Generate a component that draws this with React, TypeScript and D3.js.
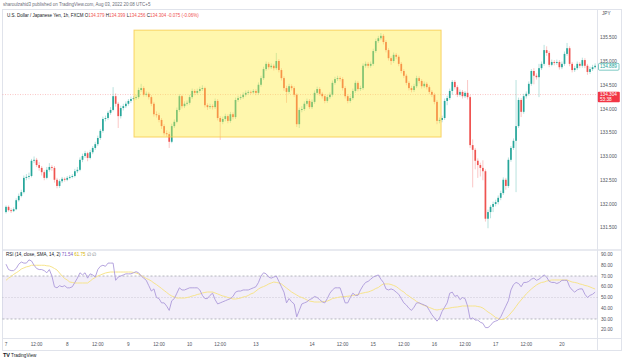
import React from 'react';
import * as d3 from 'd3';

// ---- DATA (USD/JPY 1h) ----
const firstOpen = 131.83;
const closes = [
  131.94,131.87,131.85,131.89,132.08,132.17,132.25,132.55,132.57,132.59,
  132.91,132.93,132.82,132.76,132.67,132.55,132.72,132.78,132.76,132.51,
  132.38,132.48,132.53,132.51,132.55,132.57,132.59,132.69,132.72,132.93,
  133.01,133.07,132.97,133.09,133.18,133.26,133.39,133.54,133.79,133.81,
  133.92,133.98,134.27,134.11,133.85,134.02,134.06,134.11,134.17,134.21,
  134.23,134.25,134.40,134.44,134.30,134.32,134.25,134.11,133.89,133.87,
  133.77,133.64,133.49,133.47,133.31,133.64,133.73,133.98,134.27,134.06,
  134.11,134.13,134.25,134.38,134.34,134.38,134.42,134.44,134.08,134.04,
  134.06,134.04,134.17,133.81,133.73,133.79,133.85,133.75,133.89,133.83,
  134.19,134.23,134.25,134.30,134.34,134.36,134.35,134.38,134.34,134.51,
  134.65,134.84,134.95,134.88,134.91,134.86,135.01,134.82,134.65,134.44,
  134.36,134.48,134.44,134.30,133.68,133.98,134.00,134.11,134.17,134.04,
  134.15,134.34,134.42,134.32,134.27,134.17,134.25,134.30,134.55,134.63,
  134.65,134.63,134.44,134.27,134.17,134.23,134.38,134.55,134.42,134.44,
  134.91,134.95,134.91,134.95,135.22,135.43,135.49,135.54,135.41,135.24,
  135.07,135.01,135.14,135.10,134.95,134.80,134.70,134.55,134.44,134.40,
  134.48,134.65,134.59,134.48,134.53,134.46,134.36,134.30,134.15,133.75,
  133.77,133.81,134.17,134.23,134.38,134.57,134.46,134.30,134.36,134.27,
  134.34,134.25,133.24,133.14,132.91,132.82,132.76,132.69,131.69,131.83,
  131.94,132.00,132.04,132.13,132.23,132.51,132.38,132.93,133.18,133.33,
  133.64,134.19,133.94,134.27,134.32,134.53,134.80,134.70,134.67,134.86,
  134.95,135.24,135.18,134.93,134.99,134.97,134.99,134.88,134.95,135.16,
  135.28,134.95,134.82,134.86,134.95,134.91,135.03,134.91,134.78,134.84,
  134.88,134.91,
];
const highs = [
  131.97,131.97,131.91,131.93,132.12,132.22,132.30,132.60,132.63,132.66,
  132.95,133.00,132.97,132.88,132.80,132.71,132.78,132.86,132.82,132.80,
  132.55,132.52,132.57,132.56,132.59,132.61,132.63,132.74,132.78,132.98,
  133.06,133.12,133.10,133.14,133.22,133.31,133.44,133.58,133.84,133.86,
  133.96,134.04,134.46,134.33,134.15,134.07,134.11,134.16,134.21,134.26,
  134.27,134.30,134.45,134.53,134.48,134.37,134.36,134.29,134.15,133.95,
  133.92,133.81,133.68,133.55,133.52,133.69,133.78,134.03,134.31,134.30,
  134.16,134.18,134.30,134.43,134.42,134.43,134.47,134.50,134.47,134.12,
  134.11,134.10,134.22,134.21,133.85,133.84,133.90,133.89,133.94,133.93,
  134.24,134.28,134.29,134.35,134.39,134.40,134.39,134.42,134.42,134.56,
  134.70,134.89,135.00,134.99,134.96,134.95,135.18,135.05,134.86,134.69,
  134.49,134.53,134.52,134.48,134.33,134.03,134.06,134.16,134.22,134.21,
  134.20,134.39,134.47,134.46,134.36,134.31,134.30,134.35,134.60,134.68,
  134.70,134.69,134.67,134.48,134.31,134.28,134.43,134.60,134.59,134.49,
  134.96,135.00,134.99,135.00,135.27,135.48,135.54,135.60,135.58,135.45,
  135.28,135.11,135.19,135.18,135.14,134.99,134.84,134.74,134.59,134.49,
  134.53,134.70,134.69,134.63,134.58,134.57,134.50,134.40,134.34,134.19,
  133.82,133.86,134.22,134.28,134.43,134.61,134.61,134.50,134.41,134.40,
  134.38,134.61,134.29,133.36,133.18,132.96,132.87,132.92,132.73,131.88,
  131.98,132.05,132.09,132.18,132.28,132.56,132.55,132.98,133.22,133.38,
  134.61,134.24,134.23,134.32,134.37,134.58,134.84,134.86,134.75,134.95,
  135.00,135.35,135.32,135.22,135.04,135.03,135.04,135.03,135.00,135.21,
  135.39,135.32,134.99,134.91,135.00,134.99,135.08,135.07,134.95,134.89,
  134.93,134.96,
];
const lows = [
  131.80,131.84,131.81,131.83,131.87,132.05,132.14,132.22,132.50,132.52,
  132.56,132.86,132.78,132.70,132.60,132.50,132.52,132.68,132.70,132.45,
  132.33,132.34,132.44,132.47,132.48,132.52,132.54,132.56,132.65,132.69,
  132.88,132.97,132.90,132.94,133.05,133.14,133.22,133.35,133.50,133.74,
  133.77,133.88,133.95,134.05,133.60,133.80,133.97,134.02,134.07,134.13,
  134.18,134.19,134.21,134.36,134.26,134.26,134.20,134.06,133.84,133.82,
  133.72,133.58,133.44,133.42,133.18,133.28,133.60,133.70,133.94,134.01,
  134.02,134.07,134.09,134.21,134.29,134.30,134.34,134.38,134.03,133.98,
  134.00,133.99,134.00,133.76,133.35,133.68,133.74,133.70,133.71,133.78,
  133.79,134.15,134.19,134.21,134.26,134.30,134.31,134.32,134.29,134.30,
  134.47,134.61,134.80,134.83,134.84,134.81,134.82,134.77,134.60,134.38,
  134.13,134.32,134.39,134.25,133.62,133.60,133.93,133.96,134.07,134.00,
  134.00,134.11,134.30,134.28,134.22,134.12,134.13,134.21,134.26,134.51,
  134.59,134.58,134.39,134.22,134.12,134.13,134.19,134.34,134.37,134.38,
  134.40,134.87,134.86,134.87,134.91,135.18,135.39,135.45,135.36,135.19,
  135.02,134.93,134.97,135.05,134.90,134.75,134.65,134.50,134.39,134.35,
  134.36,134.44,134.54,134.43,134.44,134.41,134.31,134.25,134.10,133.68,
  133.70,133.72,133.77,134.08,134.19,134.30,134.41,134.25,134.26,134.22,
  134.23,134.20,133.18,132.35,132.73,132.55,132.58,132.50,131.63,131.49,
  131.70,131.83,131.95,131.99,132.08,132.19,132.30,132.34,132.89,133.14,
  132.25,133.60,133.83,133.90,134.22,134.28,134.49,134.52,134.62,134.25,
  134.82,134.91,135.12,134.88,134.90,134.92,134.93,134.83,134.84,134.91,
  135.12,134.90,134.77,134.78,134.82,134.86,134.87,134.86,134.72,134.74,
  134.80,134.85,
];
const rsi = [
  81,76,75,75,77,81,83,82,82,85,
  84,80,77,76,76,75,73,76,70,60,
  59,61,60,61,59,59,60,64,68,73,
  71,73,68,72,71,69,76,79,80,79,
  82,82,82,66,69,70,71,72,72,72,
  73,74,73,70,68,66,61,56,58,50,
  49,45,45,42,38,47,49,54,59,57,
  57,58,59,59,59,59,57,52,49,49,
  52,54,48,44,45,46,47,48,49,51,
  55,56,56,57,57,57,58,59,60,64,
  70,73,72,69,68,69,70,65,60,55,
  45,49,46,44,32,38,44,45,46,48,
  49,51,50,48,46,45,49,54,57,59,
  59,59,52,45,45,50,54,52,52,57,
  61,64,65,67,69,70,71,67,64,58,
  57,58,57,55,53,49,45,43,40,38,
  41,45,45,44,43,42,38,34,31,28,
  31,37,41,45,54,55,51,52,48,50,
  49,42,30,31,29,29,27,26,22,22,
  24,27,28,29,32,37,42,47,57,62,
  64,63,60,64,64,65,67,68,66,67,
  69,71,69,65,64,64,63,64,66,66,
  66,60,57,55,57,58,58,53,50,52,
  53,55,
];
const rsiMa = [
  66,68,69.5,71.5,73,74.5,76.5,77.5,78.5,79,
  80,80,80,80,80,80,79.5,79.3,78.4,77,
  75.6,72.8,70,67.7,66.3,64.4,64,63.5,63.5,63.5,
  63.5,63.5,63.5,65.3,67.2,68.6,70,70.9,71.9,72.8,
  73.3,73.7,73.7,73.7,73.7,73.7,73.7,73.7,73.7,73.7,
  73.3,72.8,71.9,70.5,69.1,67.7,66.7,65.3,63.5,62,
  60.2,58.4,56.5,54.7,52.8,51.4,50.5,49.5,49.5,49.5,
  49.5,50,50.5,51.4,51.9,52.8,53.3,54.2,54.7,55.1,
  55.1,55.1,54.2,53.3,52.3,51.4,50.9,50,49.5,48.6,
  48.6,49,49.5,50.5,50.9,51.9,53.3,54.2,56,57.9,
  59.3,60.2,61.2,62.6,63.5,64.4,64,63.5,62.6,60.7,
  58.8,57,55.1,53.7,52.3,50.9,50,49,47.7,46.7,
  46.3,45.8,45.8,45.8,46,46.3,46.7,47.7,49,49.5,
  50,50.5,50.7,50.9,51.2,51.4,51.9,52.3,52.8,53.7,
  54.2,54.7,55.1,56,57,58.4,59.3,61.2,62.6,62.6,
  62.6,62.1,61.2,60.2,58.4,56.5,55.1,52.8,51.4,49.5,
  48.1,46.3,44.9,43.5,42.6,41.6,40.7,39.8,38.8,38.4,
  38.8,39.3,39.5,39.8,40.2,40.7,41,41.2,41.6,42.1,
  42.1,42.1,42.1,42.1,42.1,41.6,41.2,40.2,38.4,36.5,
  35.1,33.3,31.4,30.5,29.5,29.5,30.9,32.8,35.6,38.4,
  41.6,44.9,47.7,50.5,53.3,55.6,57.9,59.8,61.6,63,
  64,64.4,65.3,65.8,66.3,66.3,66.3,66.3,66.3,66.3,
  66.3,65.3,64.4,64,63.5,62.6,62.1,61.2,60.7,59.8,
  58.8,57.9,
];
const timeTickIdx = [0, 12, 24, 36, 48, 60, 72, 84, 98, 120, 132, 144, 156, 168, 180, 192, 204, 218];
const timeTickLabels = ['7', '12:00', '8', '12:00', '9', '12:00', '10', '12:00', '13', '14', '12:00', '15', '12:00', '16', '12:00', '17', '12:00', '20'];
const priceTicks = [135.5, 135.0, 134.5, 134.0, 133.5, 133.0, 132.5, 132.0, 131.5];
const rsiTicks = [90, 80, 70, 60, 50, 40, 30, 20];
const rsiBands = [70, 50, 30];
const lastPrice = 134.889;
const markPrice = 134.304;
const countdown = '53:38';
const highlightFrom = 50.2;
const highlightTo = 170.6;
const highlightTop = 135.66;
const highlightBottom = 133.41;

const FONT = "'Liberation Sans', Arial, sans-serif";
const UP = '#26a69a';
const DOWN = '#ef5350';
const AXIS_TXT = '#50535e';
const AX_FS = 4.7;

export default function App() {
  const n = closes.length;
  const x = d3.scaleLinear().domain([0, n - 1]).range([6, 595.1]);
  const y = d3.scaleLinear().domain([131.5, 135.5]).range([227.75, 37.75]);
  const yr = d3.scaleLinear().domain([30, 70]).range([319, 276]);
  const bodyW = 1.7;

  const candles = closes.map((c, i) => ({
    i,
    o: i === 0 ? firstOpen : closes[i - 1],
    c,
    h: highs[i],
    l: lows[i],
  }));

  const line = d3
    .line<number>()
    .x((_, i) => x(i))
    .y((d) => yr(d));

  const pricePlot = { left: 2.5, right: 597.5 };

  return (
    <svg
      width={624}
      height={360}
      style={{ position: 'fixed', left: 0, top: 0, background: '#fff' }}
      fontFamily={FONT}
    >
      <rect x={0} y={0} width={624} height={360} fill="#fff" />
      {/* header */}
      <text x={3} y={6} fontSize={4.5} fill="#6a6d78">
        sharoulzahid3 published on TradingView.com, Aug 03, 2022 20:08 UTC+5
      </text>
      {/* frame */}
      <rect x={2.5} y={9.5} width={619} height={341} fill="none" stroke="#e0e3eb" strokeWidth={1} />
      <line x1={pricePlot.right} x2={pricePlot.right} y1={9.5} y2={350.5} stroke="#e0e3eb" />
      <line x1={2.5} x2={621.5} y1={250} y2={250} stroke="#e0e3eb" strokeWidth={1.5} />
      <line x1={2.5} x2={621.5} y1={338.5} y2={338.5} stroke="#e0e3eb" />

      <text x={7} y={16.5} fontSize={4.5} fill="#131722">
        <tspan>U.S. Dollar / Japanese Yen, 1h, FXCM </tspan>
        <tspan> O</tspan>
        <tspan fill={DOWN}>134.379</tspan>
        <tspan> H</tspan>
        <tspan fill={DOWN}>134.399</tspan>
        <tspan> L</tspan>
        <tspan fill={DOWN}>134.256</tspan>
        <tspan> C</tspan>
        <tspan fill={DOWN}>134.304</tspan>
        <tspan fill={DOWN}>{'  -0.075 (-0.06%)'}</tspan>
      </text>

      {/* mark price dotted line */}
      <line
        x1={pricePlot.left}
        x2={pricePlot.right}
        y1={y(markPrice)}
        y2={y(markPrice)}
        stroke={DOWN}
        strokeOpacity={0.55}
        strokeWidth={0.6}
        strokeDasharray="1,1.5"
      />

      {/* candles */}
      <g>
        {candles.map((d) => {
          const col = d.c >= d.o ? UP : DOWN;
          const top = y(Math.max(d.o, d.c));
          const bot = y(Math.min(d.o, d.c));
          return (
            <g key={d.i}>
              <line
                x1={x(d.i)}
                x2={x(d.i)}
                y1={y(d.h)}
                y2={y(d.l)}
                stroke={col}
                strokeWidth={0.6}
                strokeOpacity={0.55}
              />
              <rect
                x={x(d.i) - bodyW / 2}
                y={top}
                width={bodyW}
                height={Math.max(0.7, bot - top)}
                fill={col}
              />
            </g>
          );
        })}
      </g>

      {/* highlight rectangle */}
      <rect
        x={x(highlightFrom)}
        y={y(highlightTop)}
        width={x(highlightTo) - x(highlightFrom)}
        height={y(highlightBottom) - y(highlightTop)}
        fill="#ffeb3b"
        fillOpacity={0.42}
        stroke="#f7c948"
        strokeOpacity={0.8}
        strokeWidth={1}
      />

      {/* price axis */}
      <text x={602} y={15} fontSize={AX_FS} fill={AXIS_TXT}>JPY</text>
      {priceTicks.map((p) => (
        <text key={p} x={600} y={y(p)} dy="0.35em" fontSize={AX_FS} fill={AXIS_TXT}>
          {p.toFixed(3)}
        </text>
      ))}
      <rect
        x={598.5}
        y={y(lastPrice) - 3.4}
        width={20.5}
        height={6.8}
        rx={1}
        fill="#fff"
        stroke={UP}
        strokeWidth={0.6}
      />
      <text x={600} y={y(lastPrice)} dy="0.35em" fontSize={AX_FS} fill={UP}>
        {lastPrice.toFixed(3)}
      </text>
      <rect x={597.8} y={y(markPrice) - 2.8} width={22} height={10.6} rx={1} fill="#f23645" />
      <text x={600} y={y(markPrice)} dy="0.35em" fontSize={AX_FS} fill="#fff">
        {markPrice.toFixed(3)}
      </text>
      <text x={600} y={y(markPrice) + 5} dy="0.35em" fontSize={AX_FS} fill="#fff">
        {countdown}
      </text>

      {/* RSI pane */}
      <rect
        x={pricePlot.left}
        y={yr(70)}
        width={pricePlot.right - pricePlot.left}
        height={yr(30) - yr(70)}
        fill="#7e57c2"
        fillOpacity={0.1}
      />
      {rsiBands.map((b) => (
        <line
          key={b}
          x1={pricePlot.left}
          x2={pricePlot.right}
          y1={yr(b)}
          y2={yr(b)}
          stroke="#787b86"
          strokeOpacity={b === 50 ? 0.45 : 0.75}
          strokeWidth={0.7}
          strokeDasharray={b === 50 ? '1,2' : '2,2'}
        />
      ))}
      <path d={line(rsiMa) || ''} fill="none" stroke="#f7e48c" strokeWidth={1} />
      <path d={line(rsi) || ''} fill="none" stroke="#ad9ada" strokeWidth={0.9} />
      <text x={6} y={256} fontSize={4.5} fill="#131722">
        <tspan>RSI (14, close, SMA, 14, 2) </tspan>
        <tspan fill="#7e57c2"> 71.54</tspan>
        <tspan fill="#d8b600"> 61.75</tspan>
        <tspan fill="#787b86"> ∅ ∅</tspan>
      </text>
      {rsiTicks.map((t) => (
        <text key={t} x={601} y={yr(t)} dy="0.35em" fontSize={AX_FS} fill={AXIS_TXT}>
          {t.toFixed(2)}
        </text>
      ))}

      {/* time axis */}
      {timeTickIdx.map((idx, k) => (
        <text
          key={k}
          x={x(idx)}
          y={344.5}
          dy="0.35em"
          fontSize={AX_FS}
          fill={AXIS_TXT}
          textAnchor="middle"
        >
          {timeTickLabels[k]}
        </text>
      ))}

      {/* logo */}
      <text x={3} y={357} fontSize={5.5} fontWeight="bold" fill="#131722">TV</text>
      <text x={11} y={357} fontSize={4.6} fill="#131722">TradingView</text>
    </svg>
  );
}
